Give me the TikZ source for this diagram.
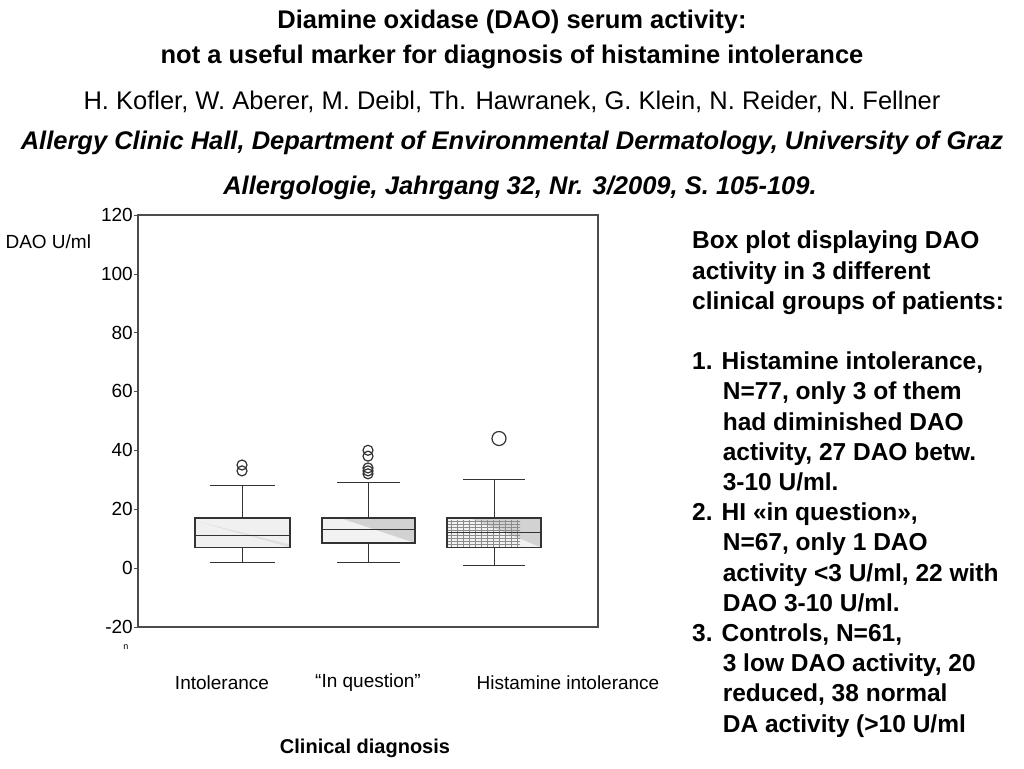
\documentclass[tikz,border=0pt]{standalone}
\usepackage{fontspec}
\setmainfont{Liberation Sans}
\usetikzlibrary{calc}
\begin{document}
\begin{tikzpicture}[x=1pt,y=-1pt,
  ttl/.style={font=\fontsize{25.5}{28}\selectfont\bfseries},
  tick/.style={font=\fontsize{19}{20}\selectfont,anchor=east,inner sep=1pt},
  cat/.style={font=\fontsize{19}{20}\selectfont},
  bx/.style={draw=black!80,line width=1.1pt},
  wl/.style={draw=black!80,line width=1pt},
  oc/.style={draw=black!80,line width=1.2pt,circle,minimum size=10pt,inner sep=0pt},
  st/.style={draw=none,minimum size=10pt,inner sep=0pt,
     append after command={[black!80,line width=1.2pt]
       ($(\tikzlastnode.center)+(-5,0)$) -- ($(\tikzlastnode.center)+(5,0)$)
       ($(\tikzlastnode.center)+(-3.5,-3.5)$) -- ($(\tikzlastnode.center)+(3.5,3.5)$)
       ($(\tikzlastnode.center)+(-3.5,3.5)$) -- ($(\tikzlastnode.center)+(3.5,-3.5)$)
       ($(\tikzlastnode.center)+(0,-5)$) -- ($(\tikzlastnode.center)+(0,5)$)}}]
\useasboundingbox (0,0) rectangle (1024,768);
\fill[white] (0,0) rectangle (1024,768);
\node[ttl] (t1) at (512,22) {Diamine oxidase (DAO) serum activity:};
\node[ttl] (t2) at (512,57) {not a useful marker for diagnosis of histamine intolerance};
\node[font=\fontsize{25.5}{28}\selectfont] (t3) at (512,102) {H. Kofler, W. Aberer, M. Deibl, Th. Hawranek, G. Klein, N. Reider, N. Fellner};
\node[font=\fontsize{25.5}{28}\selectfont\bfseries\itshape] (t4) at (512,143) {Allergy Clinic Hall, Department of Environmental Dermatology, University of Graz};
\node[font=\fontsize{25.5}{28}\selectfont\bfseries\itshape] (t5) at (520,188) {Allergologie, Jahrgang 32, Nr. 3/2009, S. 105-109.};
% plot
\def\Y#1{568-2.943*(#1)}
\draw[black!70,line width=1.3pt] (138,215) rectangle (598,627);
\foreach \v in {120,100,80,60,40,20,0,-20}{
  \draw[black!70] (134,{\Y{\v}}) -- (138,{\Y{\v}});
  \node[tick] (tk\v) at (134,{\Y{\v}}) {\v};}
\node[font=\fontsize{19}{20}\selectfont,anchor=west] (ylab) at (2,242) {DAO U/ml};
\node[font=\fontsize{9}{9}\selectfont] (nn) at (126,647) {n};
% box 1
\fill[gray!12] (195,{\Y{7}}) rectangle (290,{\Y{17}});
\fill[gray!25] (195,{\Y{16}}) -- (290,{\Y{8}}) -- (290,{\Y{7}}) -- cycle;
\draw[wl] (242,{\Y{17}}) -- (242,{\Y{28}}) (210,{\Y{28}}) -- (275,{\Y{28}});
\draw[wl] (242,{\Y{7}}) -- (242,{\Y{2}}) (210,{\Y{2}}) -- (275,{\Y{2}});
\draw[bx] (195,{\Y{7}}) rectangle (290,{\Y{17}});
\draw[bx] (195,{\Y{11}}) -- (290,{\Y{11}});
\node[oc] (o11) at (242,{\Y{33}}) {};
\node[oc] (o12) at (242,{\Y{35}}) {};
% box 2
\fill[gray!10] (322,{\Y{8.5}}) rectangle (415,{\Y{17}});
\fill[gray!35] (340,{\Y{17}}) -- (415,{\Y{17}}) -- (415,{\Y{8.5}}) -- cycle;
\draw[wl] (368,{\Y{17}}) -- (368,{\Y{29}}) (337,{\Y{29}}) -- (400,{\Y{29}});
\draw[wl] (368,{\Y{8.5}}) -- (368,{\Y{2}}) (337,{\Y{2}}) -- (400,{\Y{2}});
\draw[bx] (322,{\Y{8.5}}) rectangle (415,{\Y{17}});
\draw[bx] (322,{\Y{13}}) -- (415,{\Y{13}});
\foreach \v/\n in {32/a,33/b,34/c,38/d,40/e}{\node[oc] (o2\n) at (368,{\Y{\v}}) {};}
\node[st] (s21) at (368,{\Y{44}}) {};
\node[st] (s22) at (368,{\Y{47}}) {};
% box 3
\fill[gray!10] (447,{\Y{7}}) rectangle (541,{\Y{17}});
\fill[gray!35] (470,{\Y{17}}) -- (541,{\Y{17}}) -- (541,{\Y{7}}) -- cycle;
\begin{scope}
\clip (447,{\Y{7}}) rectangle (520,{\Y{16}});
\foreach \xx in {451,457,...,520} \draw[black!45,line width=0.4pt] (\xx,{\Y{7}}) -- (\xx,{\Y{17}});
\foreach \yy in {1,...,9} \draw[black!45,line width=0.4pt] (447,{\Y{7+\yy}}) -- (541,{\Y{7+\yy}});
\end{scope}
\draw[wl] (494,{\Y{17}}) -- (494,{\Y{30}}) (463,{\Y{30}}) -- (525,{\Y{30}});
\draw[wl] (494,{\Y{7}}) -- (494,{\Y{1}}) (463,{\Y{1}}) -- (525,{\Y{1}});
\draw[bx] (447,{\Y{7}}) rectangle (541,{\Y{17}});
\draw[bx] (447,{\Y{12}}) -- (541,{\Y{12}});
\node[oc,minimum size=14pt] (o31) at (499,{\Y{44}}) {};
\node[st] (s31) at (499,{\Y{80}}) {};
\node[st] (s32) at (499,{\Y{112}}) {};
% category labels
\node[cat] (c1) at (222,683) {Intolerance};
\node[cat] (c2) at (368,683) {“In question”};
\node[cat] (c3) at (568,683) {Histamine intolerance};
\node[font=\fontsize{20}{22}\selectfont\bfseries] (xl) at (365,748) {Clinical diagnosis};
% right text
\node[anchor=north west,align=left,inner sep=0pt,font=\fontsize{24.5}{30.2}\selectfont\bfseries] (rt) at (692,231) {Box plot displaying DAO\\activity in 3 different\\clinical groups of patients:\\[30.2pt]
1. Histamine intolerance,\\\hspace*{1.25em}N=77, only 3 of them\\\hspace*{1.25em}had diminished DAO\\\hspace*{1.25em}activity, 27 DAO betw.\\\hspace*{1.25em}3-10 U/ml.\\
2. HI «in question»,\\\hspace*{1.25em}N=67, only 1 DAO\\\hspace*{1.25em}activity <3 U/ml, 22 with\\\hspace*{1.25em}DAO 3-10 U/ml.\\
3. Controls, N=61,\\\hspace*{1.25em}3 low DAO activity, 20\\\hspace*{1.25em}reduced, 38 normal\\\hspace*{1.25em}DA activity (>10 U/ml};
\end{tikzpicture}
\end{document}
